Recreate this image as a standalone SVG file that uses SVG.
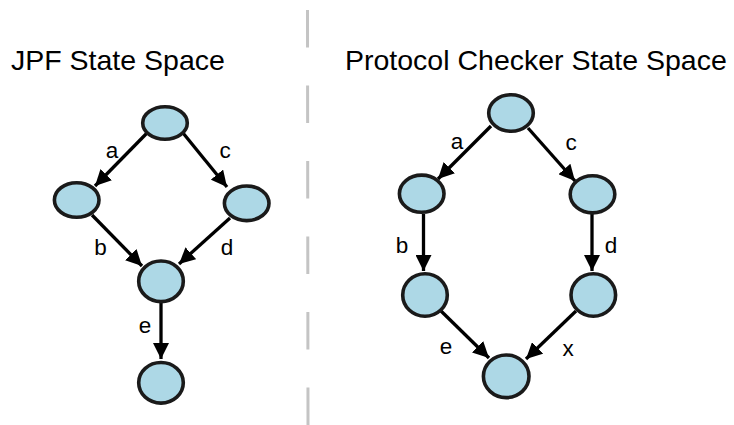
<svg xmlns="http://www.w3.org/2000/svg" width="734" height="425" viewBox="0 0 734 425">
  <style>
    .title { font-family: "Liberation Sans", Arial, sans-serif; font-size: 28.5px; fill: #000; }
    .lbl { font-family: "Liberation Sans", Arial, sans-serif; font-size: 22.5px; fill: #000; text-anchor: middle; }
    .state { fill: #ADD8E6; stroke: #1a1a1a; stroke-width: 3.6; }
    .edge { stroke: #000; stroke-width: 3.3; fill: none; marker-end: url(#head); }
    .divider { stroke: #c4c4c4; stroke-width: 3; stroke-dasharray: 37.5 38; }
  </style>
  <defs>
    <marker id="head" markerUnits="userSpaceOnUse" markerWidth="16" markerHeight="16" refX="16" refY="8" orient="auto">
      <path d="M0,0 L16,8 L0,16 z" fill="#000"/>
    </marker>
  </defs>

  <rect width="734" height="425" fill="#fff"/>

  <!-- separator between the two state spaces -->
  <line class="divider" x1="307.5" y1="10" x2="308" y2="425"/>

  <text class="title" x="11" y="70">JPF State Space</text>
  <text class="title" x="345" y="70">Protocol Checker State Space</text>

  <!-- transitions -->
  <g id="connectors">
    <!-- JPF -->
    <line class="edge" x1="147" y1="133" x2="95" y2="186"/>
    <line class="edge" x1="183" y1="133" x2="227" y2="187"/>
    <line class="edge" x1="92" y1="215" x2="142" y2="266"/>
    <line class="edge" x1="230" y1="218" x2="179" y2="264"/>
    <line class="edge" x1="161" y1="303" x2="161" y2="359"/>
    <!-- protocol checker -->
    <line class="edge" x1="491" y1="126" x2="438" y2="179"/>
    <line class="edge" x1="528" y1="128" x2="575" y2="181"/>
    <line class="edge" x1="423.5" y1="214" x2="423.5" y2="271"/>
    <line class="edge" x1="592" y1="214" x2="592" y2="271"/>
    <line class="edge" x1="441" y1="311" x2="489" y2="358"/>
    <line class="edge" x1="576" y1="311" x2="526" y2="359"/>
  </g>

  <g id="edge-labels">
    <text class="lbl" x="112" y="158">a</text>
    <text class="lbl" x="225" y="158">c</text>
    <text class="lbl" x="100.5" y="255">b</text>
    <text class="lbl" x="227" y="255">d</text>
    <text class="lbl" x="145" y="333">e</text>
    <text class="lbl" x="457" y="149">a</text>
    <text class="lbl" x="571" y="150">c</text>
    <text class="lbl" x="402" y="253">b</text>
    <text class="lbl" x="611" y="253">d</text>
    <text class="lbl" x="446" y="354">e</text>
    <text class="lbl" x="568" y="356">x</text>
  </g>

  <!-- JPF states -->
  <g id="jpf-s0"><ellipse class="state" cx="165" cy="123" rx="22.3" ry="16.3"/></g>
  <g id="jpf-s1"><ellipse class="state" cx="76.7" cy="200" rx="22.3" ry="17.3"/></g>
  <g id="jpf-s2"><ellipse class="state" cx="246.7" cy="203.3" rx="22.3" ry="17.3"/></g>
  <g id="jpf-s3"><ellipse class="state" cx="161" cy="281.3" rx="22.3" ry="20.3"/></g>
  <g id="jpf-s4"><ellipse class="state" cx="161" cy="382.8" rx="22.3" ry="20.3"/></g>

  <!-- protocol checker states -->
  <g id="pc-s0"><ellipse class="state" cx="511" cy="113" rx="22.3" ry="18.3"/></g>
  <g id="pc-s1"><ellipse class="state" cx="421.7" cy="193.7" rx="22.3" ry="18.6"/></g>
  <g id="pc-s2"><ellipse class="state" cx="592.5" cy="194.3" rx="22.3" ry="18.6"/></g>
  <g id="pc-s3"><ellipse class="state" cx="425" cy="295" rx="22.3" ry="21.3"/></g>
  <g id="pc-s4"><ellipse class="state" cx="593.3" cy="295" rx="22.3" ry="21.3"/></g>
  <g id="pc-s5"><ellipse class="state" cx="506.2" cy="376.3" rx="22.8" ry="21.3"/></g>
</svg>
